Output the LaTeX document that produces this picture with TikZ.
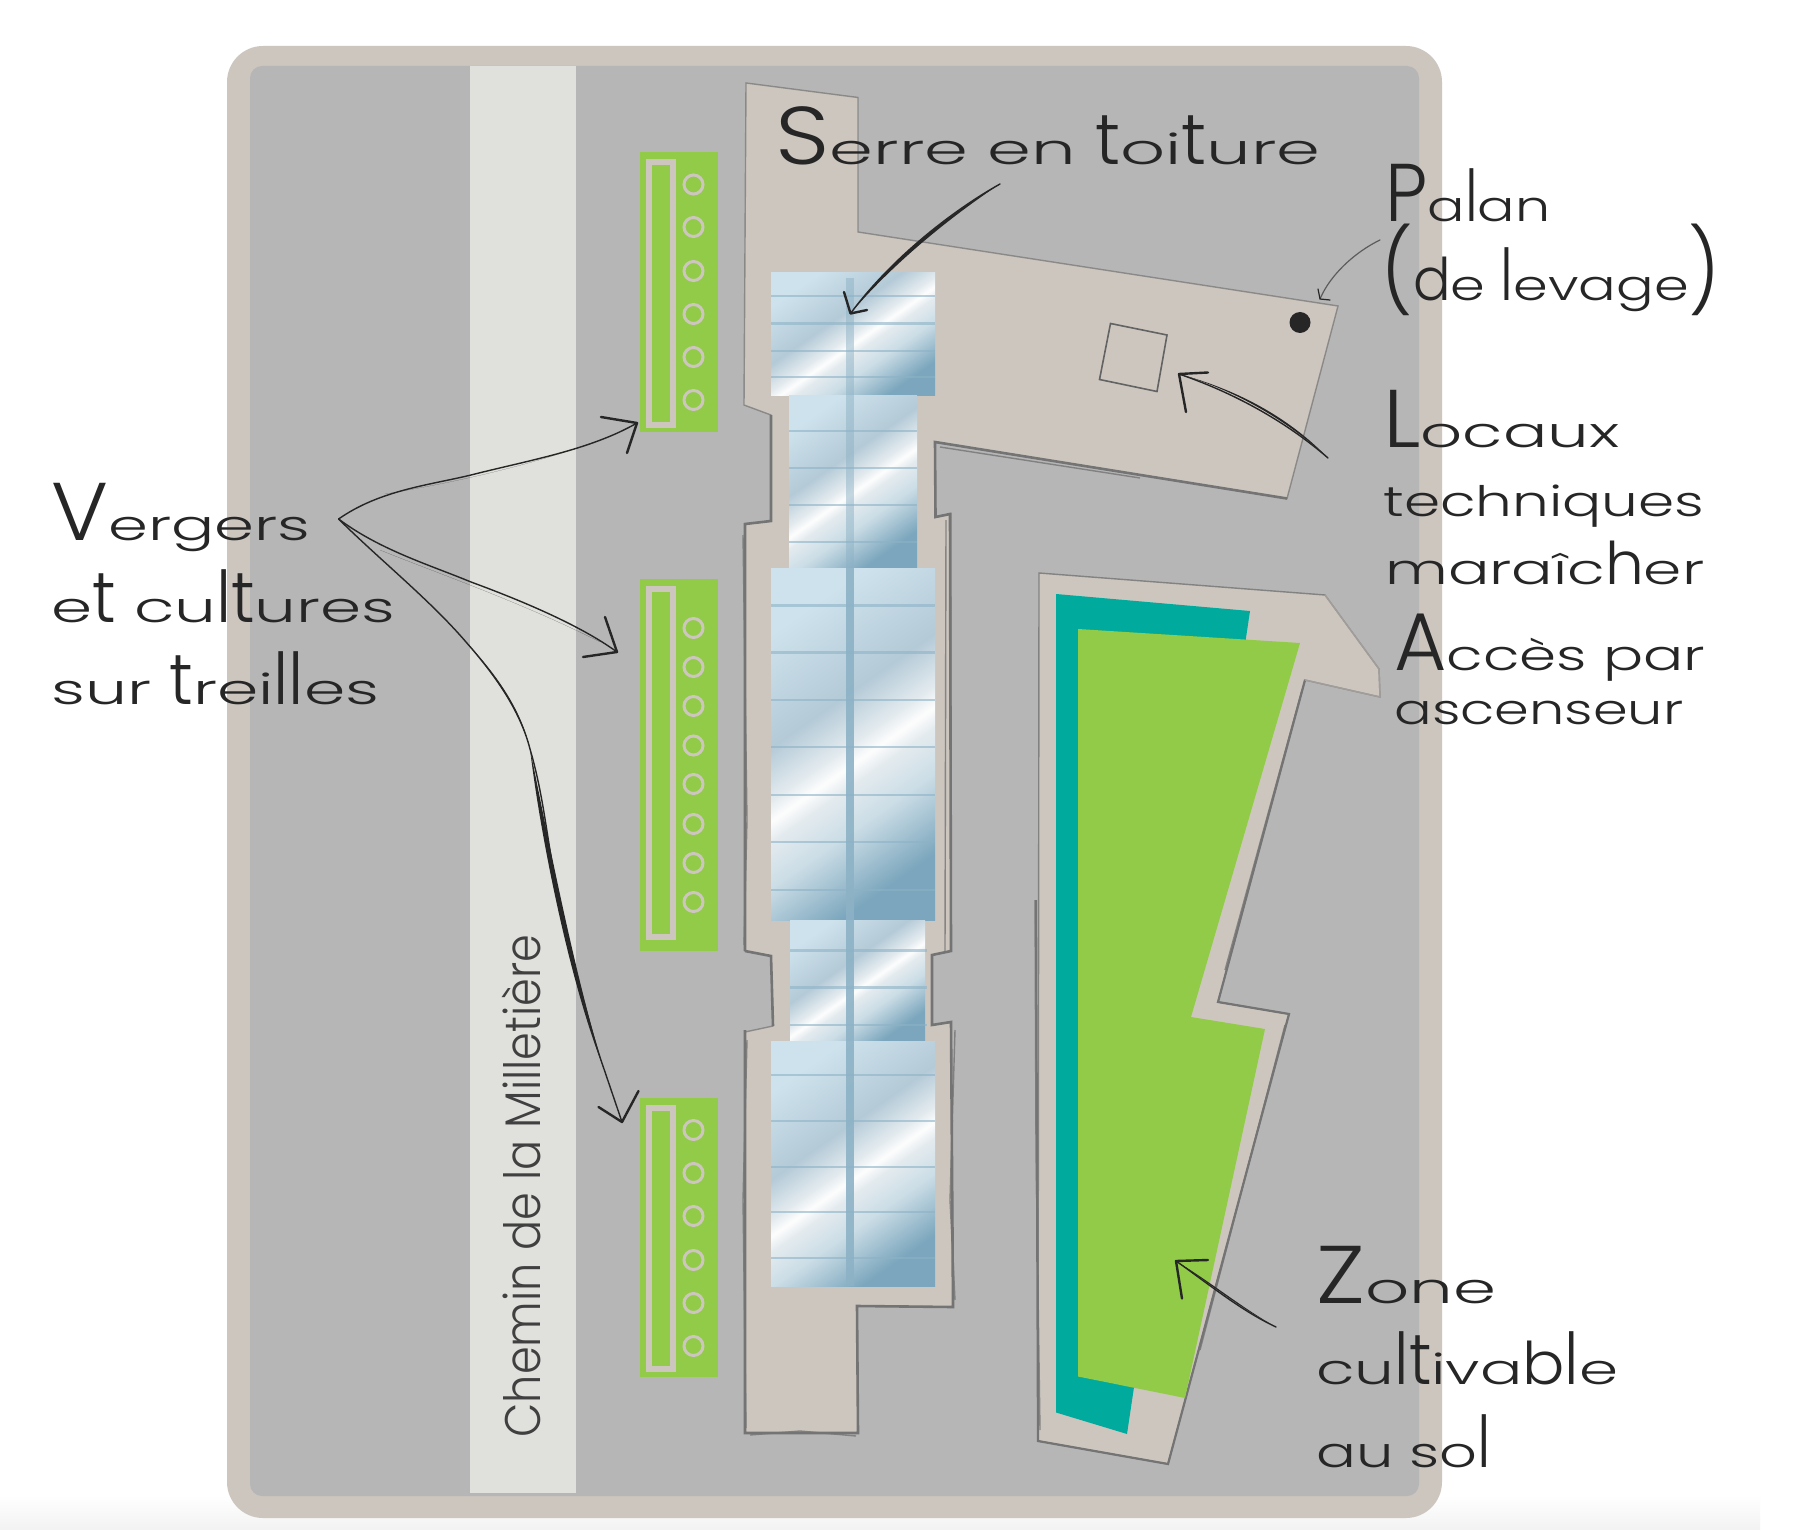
\documentclass[tikz,border=0pt]{standalone}
\usepackage{fontspec}
\usepackage{graphicx}
\usetikzlibrary{calc}
\newfontfamily\handfont[UprightFont=* Light]{Poppins}
\definecolor{beige}{HTML}{CDC6BF}
\definecolor{site}{HTML}{B6B6B6}
\definecolor{road}{HTML}{E0E1DC}
\definecolor{leaf}{HTML}{92CB47}
\definecolor{teal}{HTML}{00AA9D}
\definecolor{sketch}{HTML}{747474}
\definecolor{ink}{HTML}{262626}
\definecolor{glassA}{HTML}{CDE2EC}
\definecolor{glassB}{HTML}{B4CAD7}
\definecolor{glassC}{HTML}{E4EBEF}
\definecolor{glassD}{HTML}{FDFDFD}
\definecolor{glassE}{HTML}{CBDDE6}
\definecolor{glassF}{HTML}{7BA6BD}
\definecolor{rib}{HTML}{8DB2C6}
\pgfdeclarehorizontalshading{glass}{100bp}{
  color(0bp)=(glassA); color(25bp)=(glassA); color(42bp)=(glassB); color(50bp)=(glassC);
  color(53bp)=(glassD); color(56bp)=(glassC); color(63bp)=(glassE); color(75bp)=(glassF); color(100bp)=(glassF)}
\newlength\handlen
\newcommand\handfit[2]{\settowidth\handlen{#2}\pgfmathsetmacro\handratio{(#1*0.5)/\handlen}\scalebox{\handratio}[1]{#2}}
\newcommand\capl[1]{\scalebox{1.35}[1.95]{#1}}
\newcommand\stemA[1]{\scalebox{1}[1.7]{#1}}
\newcommand\stemB[1]{\scalebox{1}[1.4]{#1}}
\tikzset{
  x=0.5pt,y=-0.5pt,
  hw/.style={font=\handfont\fontsize{21}{21}\selectfont,text=ink,inner sep=0pt,anchor=base west},
  roadlabel/.style={font=\handfont\fontsize{25}{25}\selectfont,text=black!75,inner sep=0pt,anchor=base west,rotate=90},
  glasspane/.style={shading=glass,shading angle=-55},
  ribline/.style={draw=rib,line width=1.4pt,opacity=.6},
  spine/.style={fill=rib},
  outline/.style={draw=sketch,line width=1.3pt,line join=miter},
  outlinetwo/.style={draw=sketch,line width=.7pt,line join=miter,opacity=.8},
  inkline/.style={draw=ink,line width=.7pt,line cap=round,line join=round},
  inktip/.style={draw=ink,line width=1.2pt,line cap=round,line join=round},
  planter/.style={fill=leaf},
  trellis/.style={draw=beige,line width=2.6pt},
  hole/.style={draw=beige,line width=1.5pt},
}
\newcommand\lens[5]{\fill[ink] (#1) .. controls ([shift={(#5)}]#2) and ([shift={(#5)}]#3) .. (#4)
   .. controls ([shift={(-1*#5)}]#3) and ([shift={(-1*#5)}]#2) .. (#1) -- cycle;}
\begin{document}
\begin{tikzpicture}
\useasboundingbox (0,0) rectangle (1810,1530);
\fill[white] (0,0) rectangle (1810,1530);
\shade[top color=white,bottom color=black!5] (0,1495) rectangle (1760,1530);
% site
\fill[beige,rounded corners=18pt] (227,46) rectangle (1442,1518);
\fill[site,rounded corners=6pt] (250,66) rectangle (1419,1496);
\fill[road] (470,66) rectangle (576,1493);
\node[roadlabel] (road) at (540.5,1438) {\handfit{503}{Chemin de la Milletière}};
% planters
\fill[planter] (640,152) rectangle (718,432);
\fill[planter] (640,579) rectangle (718,951);
\fill[planter] (640,1098) rectangle (718,1377);
\draw[trellis] (649,162) rectangle (673,425);
\draw[trellis] (649,589) rectangle (673,937);
\draw[trellis] (649,1108) rectangle (673,1369);
\foreach \y in {184.5,227,271,314,357,400,628,667,706,745.5,784,824,863,902,1130,1173,1216,1260,1303,1346}
  \draw[hole] (693.5,\y) circle (9.5);
% roof building
\def\bld{(746,83) -- (858,97.5) -- (858,232) -- (1338,306) -- (1287,498.5) -- (935,442) -- (935.5,517) -- (951,514) -- (951,951) -- (932,955) -- (932,1025) -- (951,1022) -- (953,1307) -- (857,1306) -- (858,1433) -- (745,1433) -- (745,1032) -- (773,1026) -- (771,956) -- (745,951) -- (745,524) -- (771,521) -- (771,415) -- (744,405) -- cycle}
\fill[beige] \bld;
\draw[outlinetwo,draw opacity=.7] \bld;
\draw[outline] (745,1030) -- (745,1433) -- (858,1433) -- (857,1306) -- (953,1307) -- (951,1022) -- (932,1025) -- (932,955) -- (951,951) -- (950,514) -- (935.5,517) -- (935,442) -- (1287,498.5);
\draw[outline] (745,951) -- (745,524) -- (771,521) -- (771,415);
\draw[outline] (773,1026) -- (771,956) -- (745,951);
\draw[outlinetwo] (946,520) -- (945,951);
\draw[outlinetwo] (940,447) -- (1140,478);
\draw[outlinetwo] (743,535) -- (747,820) -- (744,945);
\draw[outlinetwo] (747,1040) -- (743,1200) -- (746,1428);
\draw[outlinetwo] (955,1030) -- (950,1200) -- (955,1300);
\draw[outlinetwo] (750,1435) -- (800,1431) -- (856,1436);
% glazing
\shade[glasspane] (771,273) rectangle (935,395);
\shade[glasspane] (789,395) rectangle (917,568);
\shade[glasspane] (771,568) rectangle (935,920);
\shade[glasspane] (790,920) rectangle (925,1041);
\shade[glasspane] (771,1041) rectangle (935,1286);
\fill[spine,opacity=.5] (845.5,278) rectangle (853.5,568);
\fill[spine,opacity=.9] (845.5,568) rectangle (853.5,1286);
\foreach \y in {296,323.5,351,377} \draw[ribline] (771,\y) -- (935,\y);
\foreach \y in {431,468,505,542} \draw[ribline] (789,\y) -- (917,\y);
\foreach \y in {605.5,652.5,700,747,795,842,890} \draw[ribline] (771,\y) -- (935,\y);
\foreach \y in {950.5,987.5,1025} \draw[ribline] (790,\y) -- (927,\y);
\foreach \y in {1075,1121,1167,1212,1258} \draw[ribline] (771,\y) -- (935,\y);
% technical room and hoist
\draw[draw=sketch!85!black,line width=.8pt] (1110.5,323.5) -- (1167,335) -- (1157,391.5) -- (1099.5,379.5) -- cycle;
\fill[ink] (1300,322.5) circle (10.5);
% crop zone
\def\plot{(1039,573) -- (1325,595) -- (1379,669) -- (1380,697) -- (1305,680) -- (1218,1002) -- (1289,1014) -- (1168,1464) -- (1038,1441) -- cycle}
\fill[beige] \plot;
\draw[outlinetwo] \plot;
\draw[outline,line width=1.1pt] (1305,680) -- (1218,1002) -- (1289,1014) -- (1168,1464) -- (1038,1441) -- (1036,900);
\draw[outlinetwo] (1040,1430) -- (1036,1150) -- (1035,900);
\draw[outlinetwo] (1302,690) -- (1225,970);
\draw[outlinetwo] (1285,1025) -- (1200,1350);
\draw[outlinetwo,draw=beige!60!sketch] (1325,595) -- (1379,669) -- (1380,697) -- (1305,680);
\fill[teal] (1056,594) -- (1250,611) -- (1127,1434) -- (1056,1412.5) -- cycle;
\fill[leaf] (1078,629) -- (1300,643) -- (1191,1017) -- (1265,1029) -- (1185,1398) -- (1078,1376.5) -- cycle;
% labels
\node[hw] (serre) at (775,165) {\handfit{545}{\capl{S}erre en \stemA{t}oi\stemA{t}ure}};
\node[hw] (palan) at (1385,222) {\handfit{165}{\capl{P}a\stemA{l}an}};
\node[hw] (levage) at (1381,300) {\handfit{339}{\capl{(}\stemB{d}e \stemA{l}evage\capl{)}}};
\node[hw] (locaux) at (1383,447) {\handfit{236}{\capl{L}ocaux}};
\node[hw] (techniques) at (1383,516) {\handfit{321}{techniques}};
\node[hw] (maraicher) at (1385,584) {\handfit{319}{maraîc\stemB{h}er}};
\node[hw] (acces) at (1394,670) {\handfit{311}{\capl{A}ccès par}};
\node[hw] (ascenseur) at (1394,724) {\handfit{289}{ascenseur}};
\node[hw] (zone) at (1316,1303) {\handfit{180}{\capl{Z}one}};
\node[hw] (cultivable) at (1316,1384) {\handfit{302}{cu\stemA{l}\stemA{t}iva\stemB{b}\stemA{l}e}};
\node[hw] (ausol) at (1316,1467) {\handfit{175}{au so\stemA{l}}};
\node[hw] (vergers) at (51,540) {\handfit{259}{\capl{V}ergers}};
\node[hw] (etcultures) at (51,622) {\handfit{344}{e\stemA{t} cu\stemA{l}\stemA{t}ures}};
\node[hw] (treilles) at (51,704) {\handfit{328}{sur \stemA{t}rei\stemA{l}\stemA{l}es}};
% arrows
\coordinate (vfrom) at (338.6,519);
\coordinate (vone) at (637,423);
\coordinate (vtwo) at (617,652);
\coordinate (vthree) at (622,1122);
\draw[inkline] (vfrom) .. controls (380,490) and (430,485) .. (471,475) .. controls (530,460) and (590,450) .. (vone);
\lens{385,494}{430,483}{530,465}{615,434}{0,3.5}
\draw[inktip] (601,417) -- (vone) -- (627,453);
\draw[inkline] (vfrom) .. controls (380,550) and (430,565) .. (471,582) .. controls (520,600) and (580,625) .. (vtwo);
\lens{380,550}{430,567}{520,598}{600,642}{0,3.5}
\draw[inktip] (605,617) -- (vtwo) -- (583,657);
\draw[inkline] (vfrom) .. controls (380,560) and (430,600) .. (466,642) .. controls (495,675) and (520,710) .. (530,749) .. controls (545,800) and (548,850) .. (558,894) .. controls (570,950) and (590,1030) .. (604,1069) -- (vthree);
\lens{466,642}{495,675}{520,710}{530,749}{1.2,-1}
\lens{530,749}{543,830}{572,980}{604,1069}{3.5,0}
\draw[inktip] (598.5,1107) -- (vthree) -- (638.5,1091);
\coordinate (sfrom) at (1000,184);
\coordinate (sto) at (850.5,313.5);
\draw[inkline] (sfrom) .. controls (950,212) and (890,260) .. (sto);
\lens{1000,184}{950,212}{890,260}{850.5,313.5}{3,3}
\draw[inktip] (844,292) -- (sto) -- (867,310);
\coordinate (pfrom) at (1380,240);
\coordinate (pto) at (1320,299);
\draw[inkline,line width=.6pt,draw=ink!75] (pfrom) .. controls (1355,252) and (1330,275) .. (pto);
\draw[inkline,line width=.6pt] (1318,289) -- (pto) -- (1330,300);
\coordinate (lfrom) at (1328,458);
\coordinate (lto) at (1179,374);
\draw[inkline] (lfrom) .. controls (1290,425) and (1240,395) .. (lto);
\lens{1328,458}{1290,425}{1240,395}{1179,374}{2.5,-4}
\draw[inktip] (1208,372.5) -- (lto) -- (1186,412);
\coordinate (zfrom) at (1276,1327);
\coordinate (zto) at (1176,1261);
\draw[inkline] (zfrom) .. controls (1240,1310) and (1210,1285) .. (zto);
\lens{1276,1327}{1240,1310}{1210,1285}{1176,1261}{1.5,-2.5}
\draw[inktip] (1208,1260) -- (zto) -- (1182,1298.5);
\end{tikzpicture}
\end{document}
